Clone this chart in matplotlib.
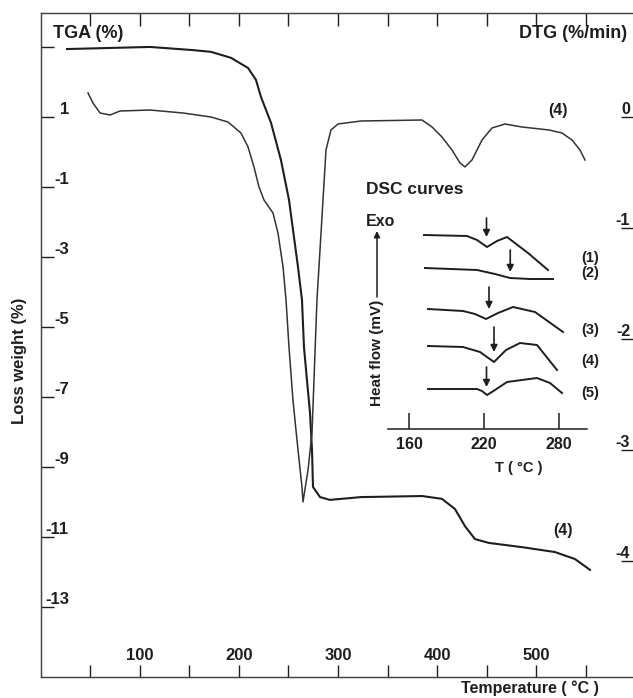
import matplotlib
matplotlib.use("Agg")
import matplotlib.pyplot as plt

# TGA curve (left axis, loss weight %)
tga_temp = [26.7, 110.4, 153.7, 171.9, 192.0, 209.2, 217.2, 222.3, 232.4, 242.4,
            250.5, 259.6, 263.6, 265.6, 268.6, 271.7, 273.7, 274.7, 281.8, 291.8,
            323.1, 384.6, 404.7, 417.8, 427.9, 438.0, 452.1, 485.4, 518.6, 538.8, 554.0]
tga_loss = [2.94, 3.00, 2.91, 2.86, 2.69, 2.40, 2.06, 1.57, 0.83, -0.23,
            -1.37, -3.29, -4.23, -5.57, -6.51, -7.46, -8.51, -9.57, -9.86, -9.94,
            -9.86, -9.83, -9.91, -10.20, -10.69, -11.06, -11.17, -11.29, -11.43, -11.63, -11.94]

# DTG curve (right axis, %/min)
dtg_temp = [47.9, 52.9, 60.0, 70.1, 80.1, 110.4, 143.7, 171.9, 189.0, 202.1,
            209.2, 215.2, 220.3, 225.3, 234.4, 239.4, 244.5, 247.5, 250.5, 254.5,
            259.6, 263.6, 264.6, 269.7, 273.7, 275.7, 278.7, 282.8, 287.8, 292.8,
            299.9, 323.1, 384.6, 394.7, 404.7, 414.8, 422.9, 427.9, 435.0, 445.1,
            455.1, 468.2, 485.4, 512.6, 525.7, 535.8, 543.8, 548.9]
dtg_rate = [0.216, 0.126, 0.036, 0.018, 0.054, 0.063, 0.036, 0.0, -0.045, -0.144,
            -0.270, -0.450, -0.631, -0.748, -0.865, -1.045, -1.351, -1.649, -2.072, -2.550,
            -3.000, -3.333, -3.468, -3.180, -2.847, -2.369, -1.649, -1.045, -0.297, -0.117,
            -0.063, -0.036, -0.027, -0.090, -0.180, -0.297, -0.414, -0.450, -0.387, -0.207,
            -0.099, -0.063, -0.090, -0.117, -0.144, -0.207, -0.297, -0.387]

temp_ticks = [50, 100, 150, 200, 250, 300, 350, 400, 450, 500, 550]
temp_tick_labels = ['', '100', '', '200', '', '300', '', '400', '', '500', '']
tga_ticks = [3, 1, -1, -3, -5, -7, -9, -11, -13]
tga_tick_labels = ['', '1', '-1', '-3', '-5', '-7', '-9', '-11', '-13']
dtg_ticks = [0, -1, -2, -3, -4]
dtg_tick_labels = ['0', '-1', '-2', '-3', '-4']

# DSC inset curves (heat flow in arbitrary offset units)
dsc_ticks = [160, 220, 280]
dsc_temps = [
    [172.0, 206.4, 214.4, 222.4, 230.4, 238.4, 255.2, 271.2],
    [172.8, 214.4, 228.8, 240.8, 256.8, 275.2],
    [175.2, 203.2, 212.8, 221.6, 231.2, 243.2, 260.8, 283.2],
    [175.2, 203.2, 216.8, 228.0, 237.6, 248.8, 262.4, 278.4],
    [175.2, 214.4, 218.4, 222.4, 228.8, 238.4, 262.4, 272.8, 282.4],
]
dsc_flows = [
    [194, 193, 189, 182, 188, 192, 176, 159],
    [161, 159, 155, 151, 150, 150],
    [120, 118, 115, 110, 116, 122, 117, 97],
    [83, 82, 77, 67, 79, 86, 84, 59],
    [40, 40, 38, 34, 39, 47, 51, 46, 36],
]
dsc_peak_temp = [222, 241, 224, 228, 222]
dsc_arrow_tail = [211, 179, 142, 102, 62]
dsc_arrow_tip = [192, 157, 120, 77, 42]
dsc_names = ['(1)', '(2)', '(3)', '(4)', '(5)']
dsc_name_flow = [171, 156, 99, 68, 36]

plt.rcParams['font.family'] = ['Liberation Sans', 'DejaVu Sans']
plt.rcParams['font.weight'] = 'bold'
ink = '#1e1e1e'

W, H = 633, 698


def fx(px):
    return px / W


def fy(py):
    return 1 - py / H


fig = plt.figure(figsize=(6.33, 6.98), dpi=100)
ax = fig.add_axes([fx(40.5), fy(677), fx(633) - fx(40.5), fy(13) - fy(677)])
ax2 = ax.twinx()

ax.plot(tga_temp, tga_loss, color=ink, lw=1.5)
ax2.plot(dtg_temp, dtg_rate, color='#333333', lw=1.1)

ax.set_xlim(0, 597.3)
ax.set_ylim(-15.0, 3.97)
ax2.set_ylim(-5.045, 0.937)

for a in (ax, ax2):
    for s in a.spines.values():
        s.set_color('#444444')
        s.set_linewidth(0.9)
    a.spines['right'].set_visible(False)

ax.set_xticks(temp_ticks, temp_tick_labels)
ax.tick_params(axis='x', which='both', direction='in', length=9, width=1.0,
               top=True, bottom=True, labeltop=False, pad=-21, labelsize=12,
               colors=ink)
ax.set_yticks(tga_ticks, tga_tick_labels)
ax.tick_params(axis='y', direction='in', length=9.5, width=1.0, pad=-20.5,
               labelsize=12, colors=ink)
for lbl in ax.get_yticklabels():
    lbl.set_va('bottom')

ax2.set_yticks(dtg_ticks, dtg_tick_labels)
ax2.tick_params(axis='y', direction='in', length=9, width=1.0, pad=-2,
                labelsize=11.5, colors=ink)
for lbl in ax2.get_yticklabels():
    lbl.set_ha('right')
    lbl.set_va('bottom')

fig.text(fx(53), fy(33), 'TGA (%)', ha='left', va='center', fontsize=13, color=ink)
fig.text(fx(627), fy(34), 'DTG (%/min)', ha='right', va='center', fontsize=13, color=ink)
fig.text(fx(558), fy(111), '(4)', ha='center', va='center', fontsize=11.5, color=ink)
fig.text(fx(563), fy(530), '(4)', ha='center', va='center', fontsize=11.5, color=ink)
fig.text(fx(20), fy(361), 'Loss weight (%)', rotation=90, ha='center', va='center',
         fontsize=12, color=ink)
fig.text(fx(530), fy(688), 'Temperature ( °C )', ha='center', va='center',
         fontsize=11.5, color=ink)

# DSC inset
axi = fig.add_axes([fx(388), fy(429), fx(587) - fx(388), fy(229) - fy(429)])
axi.patch.set_alpha(0)
for i in range(5):
    axi.plot(dsc_temps[i], dsc_flows[i], color=ink, lw=1.4)
    axi.annotate('', xy=(dsc_peak_temp[i], dsc_arrow_tip[i]),
                 xytext=(dsc_peak_temp[i], dsc_arrow_tail[i]),
                 arrowprops=dict(arrowstyle='-|>', color=ink, lw=1.2,
                                 mutation_scale=10, shrinkA=0, shrinkB=0))
    axi.text(304.8, dsc_name_flow[i], dsc_names[i], ha='center', va='center',
             fontsize=10.5, color=ink, clip_on=False)
axi.set_xlim(143.2, 302.4)
axi.set_ylim(0, 200)
for side in ('left', 'right', 'top'):
    axi.spines[side].set_visible(False)
axi.spines['bottom'].set_color(ink)
axi.spines['bottom'].set_linewidth(1.1)
axi.set_yticks([])
axi.set_xticks(dsc_ticks, [str(t) for t in dsc_ticks])
axi.tick_params(axis='x', direction='in', length=11.5, width=1.1, pad=6,
                labelsize=11.5, colors=ink)

fig.text(fx(366), fy(190), 'DSC curves', ha='left', va='center', fontsize=12.5, color=ink)
fig.text(fx(366), fy(222), 'Exo', ha='left', va='center', fontsize=11.5, color=ink)
fig.text(fx(377), fy(353), 'Heat flow (mV)', rotation=90, ha='center', va='center',
         fontsize=11, color=ink)
fig.text(fx(519), fy(468), 'T ( °C )', ha='center', va='center', fontsize=10.5, color=ink)
ax.annotate('', xy=(fx(377), fy(231)), xytext=(fx(377), fy(297)),
            xycoords='figure fraction', textcoords='figure fraction',
            arrowprops=dict(arrowstyle='-|>', color=ink, lw=1.1,
                            mutation_scale=9, shrinkA=0, shrinkB=0))

fig.savefig('out.png', dpi=100)
